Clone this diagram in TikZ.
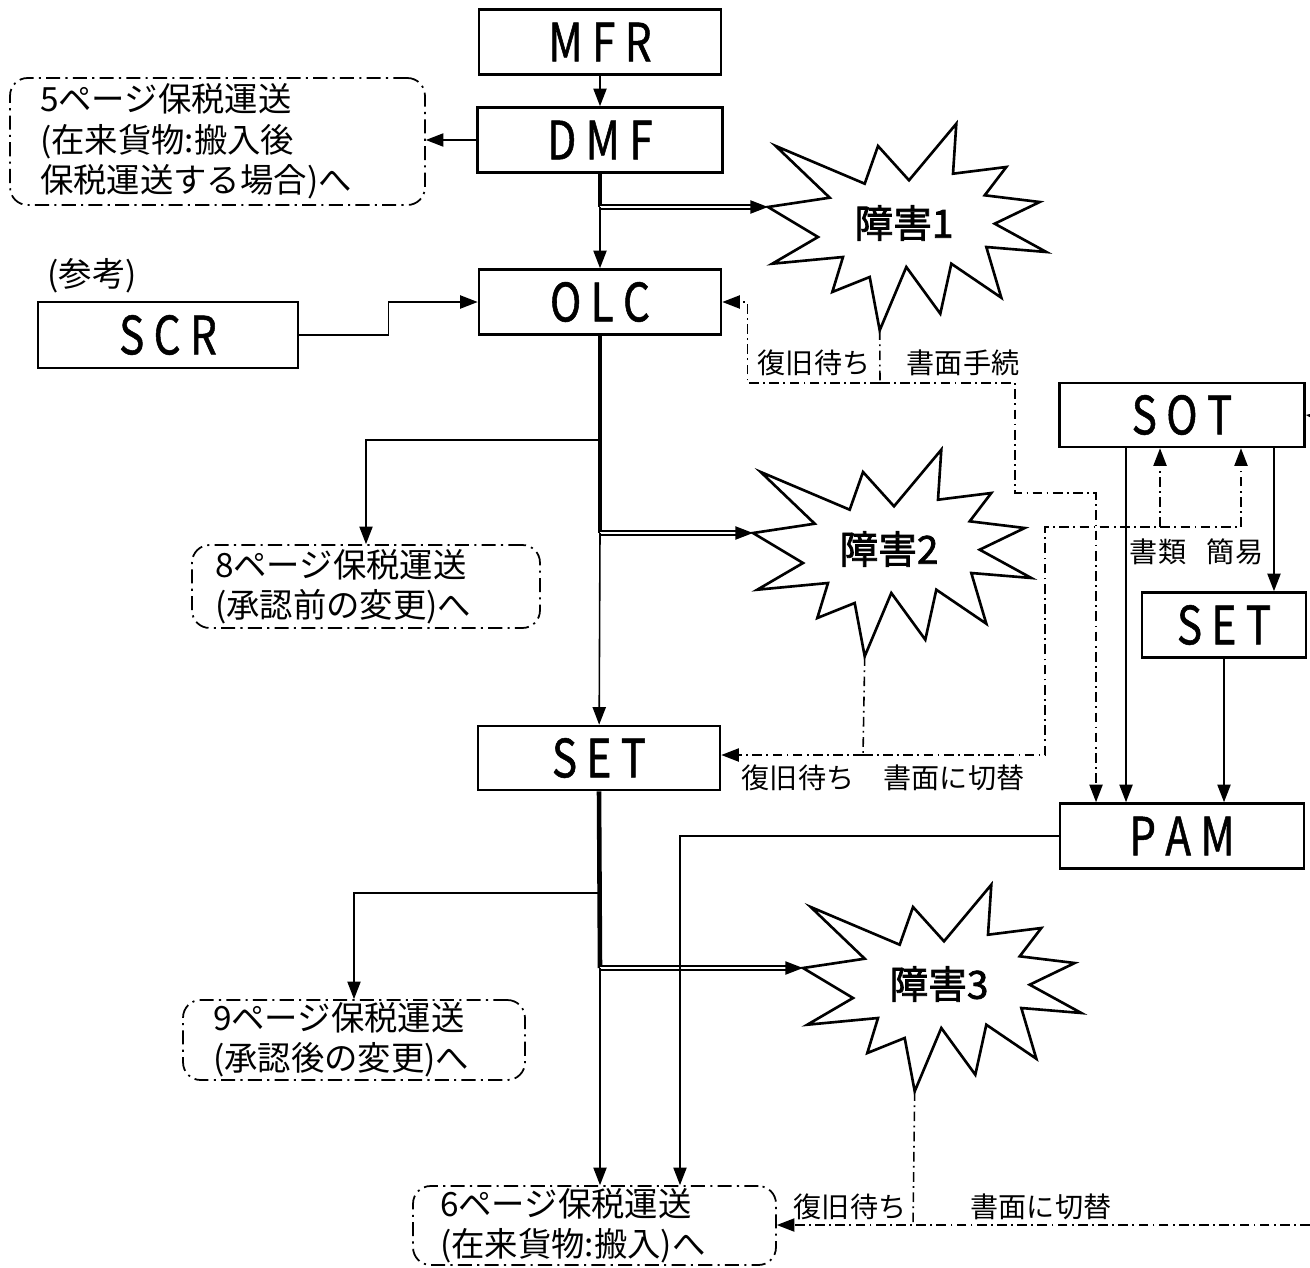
\documentclass[tikz,border=0pt]{standalone}
\usepackage{fontspec}
\setmainfont{Noto Sans CJK JP}[AutoFakeBold=2]
\newfontfamily\narrowjp{Noto Sans CJK JP}[FakeStretch=0.8, FakeBold=1]
\usetikzlibrary{arrows.meta,calc}

% starburst for the fault marks, tip (-w) on the left, tip (-s) at the bottom
\tikzset{
  pics/burst/.style={code={
    \draw[line width=1.5pt,fill=white] (0,0) -- (61.7,-9.3) -- (7.7,-61) -- (96.7,-23.3) -- (110,-61)
      -- (141,-26.7) -- (188.3,-83.3) -- (185,-33.3) -- (238.3,-40) -- (216.7,-11.7) -- (271.7,-5)
      -- (226.7,16.7) -- (278.3,45) -- (218.3,40) -- (233.3,90.7) -- (183.3,56.7) -- (172.3,106.7)
      -- (138.3,60) -- (111.7,123.3) -- (101.7,70) -- (64.3,85) -- (75,50) -- (4.3,56.7) -- (50,30) -- cycle;
    \coordinate (-w) at (0,0);
    \coordinate (-s) at (111.7,123.3);
    \node[font=\fontsize{22}{25}\selectfont\bfseries] (-t) at (136,16) {#1};
  }}
}

\begin{document}
\begin{tikzpicture}[x=0.02cm,y=-0.02cm]
\useasboundingbox (0,0) rectangle (1310,1267);
\begin{scope}
\tikzstyle{sys}=[draw, line width=1.5pt, minimum width=4.84cm, minimum height=1.3cm, inner sep=0pt, font=\narrowjp\fontsize{30}{32}\selectfont]
\tikzstyle{page}=[draw, line width=1pt, rounded corners=10pt, dash pattern=on 8pt off 3pt on 1.2pt off 3pt, align=left, inner ysep=0pt, font=\fontsize{19}{23}\selectfont]
\tikzstyle{note}=[inner sep=1pt, font=\fontsize{16}{19}\selectfont]
\tikzstyle{arr}=[-{Triangle[length=10pt,width=7.5pt]}, line width=0.9pt]
\tikzstyle{heavy}=[line width=2.6pt]
\tikzstyle{fault}=[double, double distance=1.6pt, line width=0.8pt, -{Triangle[length=10pt,width=7.5pt]}]
\tikzstyle{recov}=[line width=0.9pt, dash pattern=on 5.5pt off 2.5pt on 1pt off 2.5pt]

% system boxes
\draw (600,42) node[sys] (mfr) {M F R};
\draw (600,140) node[sys, minimum width=4.9cm] (dmf) {D M F};
\draw (600,302) node[sys] (olc) {O L C};
\draw (168,335) node[sys, minimum width=5.2cm, minimum height=1.32cm] (scr) {S C R};
\draw (599,758) node[sys, minimum height=1.28cm] (set) {S E T};
\draw (1182,415) node[sys, minimum width=4.9cm, minimum height=1.28cm] (sot) {S O T};
\draw (1224,625) node[sys, minimum width=3.28cm] (sete) {S E T};
\draw (1182,836) node[sys, minimum width=4.88cm] (pam) {P A M};

% page references
\draw (217.5,141.5) node[page, inner xsep=0.6cm, text width=7.1cm, minimum height=2.54cm] (p5) {5ページ保税運送\\(在来貨物:搬入後\\保税運送する場合)へ};
\draw (366,586.5) node[page, inner xsep=0.46cm, text width=6.04cm, minimum height=1.66cm] (p8) {8ページ保税運送\\(承認前の変更)へ};
\draw (354,1040) node[page, inner xsep=0.6cm, text width=5.64cm, minimum height=1.6cm] (p9) {9ページ保税運送\\(承認後の変更)へ};
\draw (594.5,1225.5) node[page, inner xsep=0.54cm, text width=6.18cm, minimum height=1.58cm] (p6) {6ページ保税運送\\(在来貨物:搬入)へ};

\draw (92,276) node[note, font=\fontsize{19}{22}\selectfont] (ref) {(参考)};

% faults
\pic (h1) at (768,207) {burst=障害1};
\pic (h2) at (753,533) {burst=障害2};
\pic (h3) at (803,968) {burst=障害3};

% main flow
\draw[arr] (mfr) -- (dmf);
\draw[arr] (dmf.west) -- (dmf.west -| p5.east);
\coordinate (j1) at (600,207);
\draw[heavy] (dmf.south) -- (j1);
\draw[fault] (j1) -- (h1-w);
\draw[arr] (j1) -- (olc);
\draw[arr] (scr.east) -- ++(89,0) |- (olc.west);

\coordinate (j2) at (600,533);
\coordinate (b8) at (600,440);
\draw[heavy] (olc.south) -- (j2);
\draw[arr] (b8) -| (p8.north);
\draw[fault] (j2) -- (h2-w);
\draw[arr] (j2) -- (set);

\coordinate (j3) at (600,968);
\coordinate (b9) at (600,893);
\draw[heavy] (set.south) -- (j3);
\draw[arr] (b9) -| (p9.north);
\draw[fault] (j3) -- (h3-w);
\draw[arr] (j3) -- (j3 |- p6.north);

% SOT side
\draw[arr] ([xshift=-1.12cm]sot.south) -- ([xshift=-1.12cm]sot.south |- pam.north);
\draw[arr] ([xshift=1.84cm]sot.south) -- ([xshift=1.84cm]sot.south |- sete.north);
\draw[arr] (sete) -- (sete.south |- pam.north);
\draw[arr] (pam.west) -| ([xshift=1.71cm]p6.north);
\coordinate (e2) at (1330,418);
\draw[arr] (e2) -- (sot.east);

% recovery paths
\coordinate (k1) at (880,383);
\coordinate (c1) at (1015,493);
\draw[recov] (h1-s) -- (k1);
\draw[recov, arr] (k1) -| ([xshift=0.5cm]olc.east) -- (olc.east);
\draw[recov, arr] (k1) -| (c1) -| ([xshift=-1.72cm]pam.north);
\draw (814,363) node[note] (w1) {復旧待ち};
\draw (963,363) node[note] (f1) {書面手続};

\coordinate (k2) at (863,755);
\coordinate (c2) at (1045,527);
\draw[recov] (h2-s) -- (k2);
\draw[recov, arr] (k2) -- (k2 -| set.east);
\draw[recov, arr] (k2) -| (c2) -| ([xshift=1.18cm]sot.south);
\draw[recov, arr] ([xshift=-0.44cm]sot.south |- c2) -- ([xshift=-0.44cm]sot.south);
\draw (798,778) node[note] (w2) {復旧待ち};
\draw (954,778) node[note] (f2) {書面に切替};
\draw (1158,552) node[note] (n1) {書類};
\draw (1235,552) node[note] (n2) {簡易};

\coordinate (k3) at (913,1225);
\coordinate (e3) at (1330,1225);
\draw[recov] (h3-s) -- (k3);
\draw[recov, arr] (e3) -- (e3 -| p6.east);
\draw (850,1207) node[note] (w3) {復旧待ち};
\draw (1041,1207) node[note] (f3) {書面に切替};
\end{scope}
\end{tikzpicture}
\end{document}
